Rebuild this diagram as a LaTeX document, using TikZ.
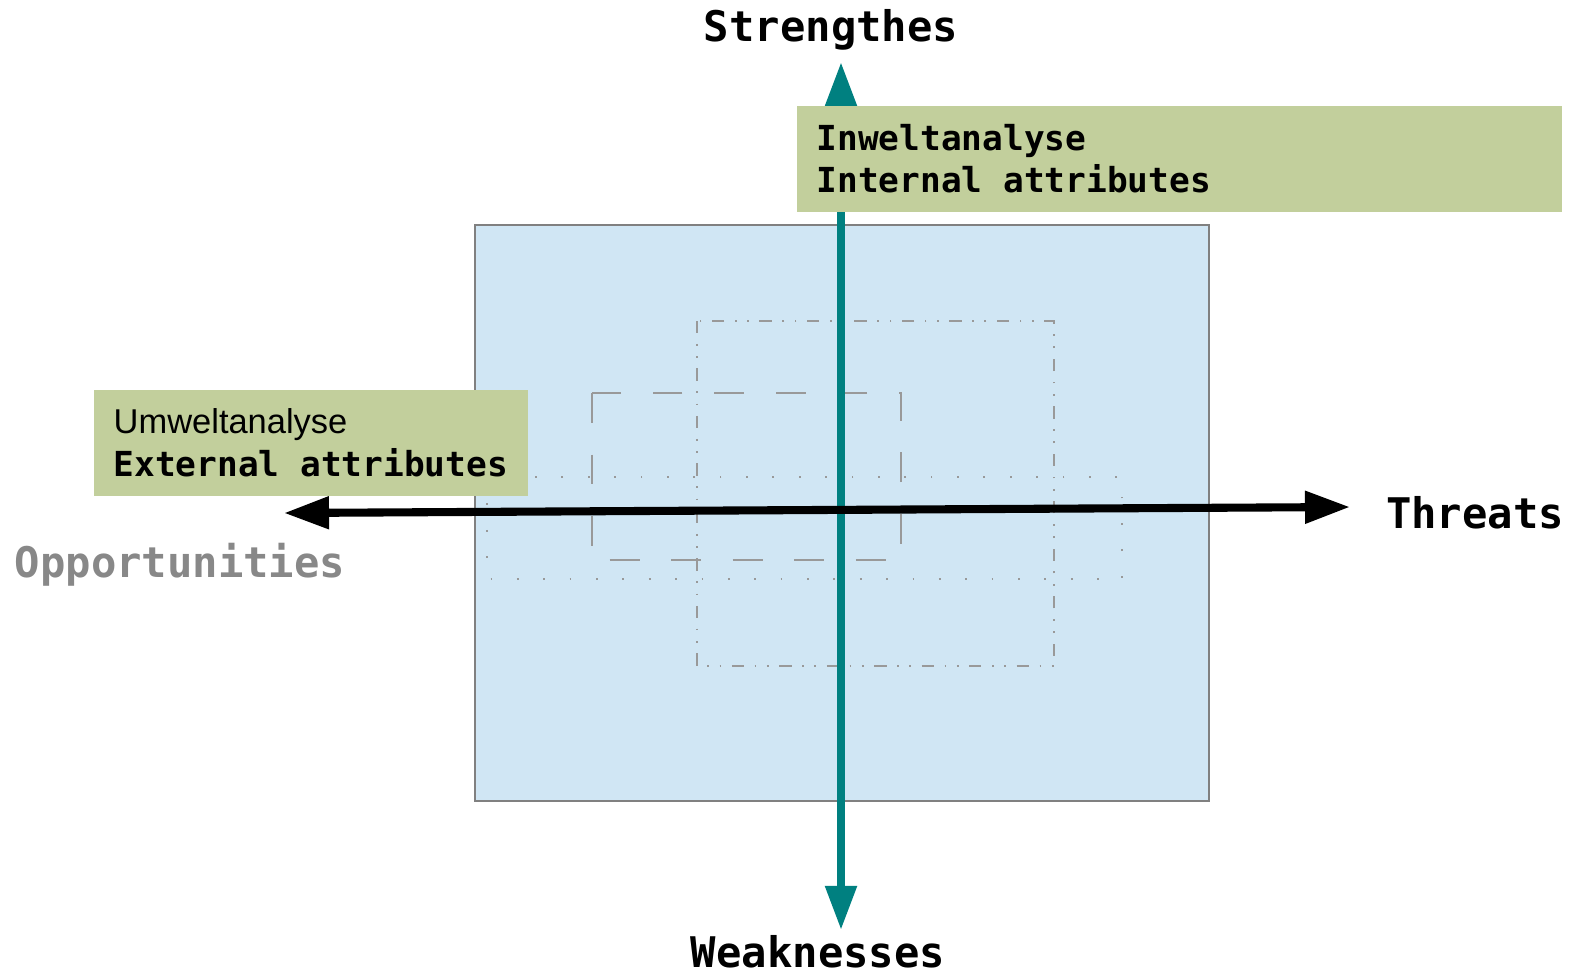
\documentclass[tikz,border=0pt]{standalone}
\usepackage{fontspec}
\setmainfont{Liberation Sans}
\setmonofont{DejaVu Sans Mono}
\usetikzlibrary{arrows.meta}
\definecolor{panelblue}{HTML}{D0E6F4}
\definecolor{boxgreen}{HTML}{C2CF9C}
\definecolor{axisteal}{HTML}{008080}
\definecolor{oppgray}{HTML}{888888}
\tikzset{
  axislabel/.style={font=\fontsize{12}{14}\selectfont\ttfamily\bfseries},
  greenbox/.style={fill=boxgreen,inner xsep=.2cm,inner ysep=0pt,minimum height=1.06cm,
    align=flush left,font=\fontsize{9.8}{12}\selectfont},
  faint/.style={draw=gray!80,line width=.35pt}
}
\begin{document}
\begin{tikzpicture}[x=.01cm,y=-.01cm]
\def\panel{(475,225) rectangle (1209,801)}
\def\dashdotrect{(697,321) rectangle (1054,666)}
\def\dashrect{(592,393) rectangle (901,560)}
\def\dotrect{(487,477) rectangle (1122,579)}

\useasboundingbox (0,0) rectangle (1570,975);
\fill[panelblue] \panel;
\draw[gray,line width=.4pt] \panel;
\draw[faint,dash pattern=on 3.5pt off 3pt on .5pt off 3pt on .5pt off 3pt] \dashdotrect;
\draw[faint,dash pattern=on 8.5pt off 9pt] \dashrect;
\draw[faint,dash pattern=on .5pt off 7pt] \dotrect;

\coordinate (sTop) at (841,62);\coordinate (sBot) at (841,930);
\coordinate (oTip) at (284,513);\coordinate (tTip) at (1350,507);
\draw[axisteal,line width=2.3pt,{Triangle[length=.44cm,width=.3cm]}-{Triangle[length=.44cm,width=.3cm]}] (sBot)--(sTop);
\draw[black,line width=2.3pt,{Triangle[length=.45cm,width=.31cm]}-{Triangle[length=.45cm,width=.31cm]}] (oTip)--(tTip);

\node[greenbox,anchor=north west,text width=7.25cm] (inwelt) at (796,105)
  {\ttfamily\bfseries Inweltanalyse\\\ttfamily\bfseries Internal attributes};
\node[greenbox,anchor=north west,minimum width=4.33cm] (umwelt) at (93,389)
  {Umweltanalyse\\\ttfamily\bfseries External attributes};

\node[axislabel] (strength) at (831,30){Strengthes};
\node[axislabel] (weak) at (818,952){Weaknesses};
\node[axislabel] (threat) at (1475,513){Threats};
\node[axislabel,text=oppgray] (opport) at (180,565){Opportunities};
\end{tikzpicture}
\end{document}
